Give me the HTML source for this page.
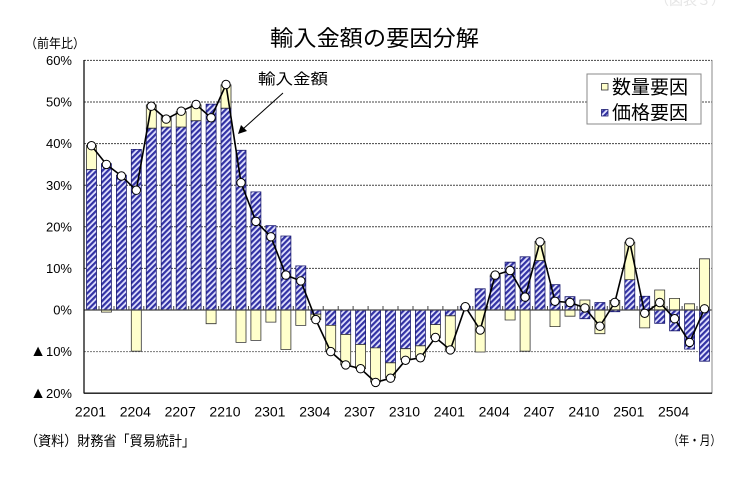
<!DOCTYPE html>
<html><head><meta charset="utf-8">
<style>
html,body{margin:0;padding:0;background:#fff;}
svg{display:block;}
text{font-family:"Liberation Sans","Noto Sans CJK JP",sans-serif;fill:#000;}
</style></head>
<body>
<svg width="744" height="492" viewBox="0 0 744 492" xmlns="http://www.w3.org/2000/svg">
<defs>
<pattern id="h" patternUnits="userSpaceOnUse" width="4" height="4" patternTransform="rotate(45)">
<rect x="0" y="0" width="4" height="4" fill="#e2e2ff"/>
<rect x="0" y="0" width="2.2" height="4" fill="#3232a4"/>
</pattern>
<marker id="m" markerWidth="10" markerHeight="10" refX="5" refY="5" markerUnits="userSpaceOnUse">
<circle cx="5" cy="5" r="4.2" fill="#fff" stroke="#000" stroke-width="1"/>
</marker>
</defs>
<rect width="744" height="492" fill="#fff"/>
<text x="655" y="5" font-size="14" style="fill:#e6e6e6">（図表３）</text>

<text x="270" y="46" font-size="22" textLength="209" lengthAdjust="spacingAndGlyphs">輸入金額の要因分解</text>
<text x="25" y="48" font-size="13" textLength="60" lengthAdjust="spacingAndGlyphs">（前年比）</text>

<path stroke="#444" stroke-width="1" stroke-dasharray="2,1" fill="none" d="M84 60.4H712M84 102H712M84 143.6H712M84 185.2H712M84 226.8H712M84 268.4H712"/>
<path stroke="#777" stroke-width="1" stroke-dasharray="2,1" fill="none" d="M84 351.6H712"/>

<path fill="url(#h)" stroke="#1c1c70" stroke-width="0.8" d="M86.5 169.4h10v140.6h-10zM101.4 163.6h10v146.4h-10zM116.4 175.2h10v134.8h-10zM131.3 149.4h10v160.6h-10zM146.3 128.2h10v181.8h-10zM161.2 127h10v183h-10zM176.2 127h10v183h-10zM191.1 120.7h10v189.3h-10zM206.1 104.1h10v205.9h-10zM221 108.2h10v201.8h-10zM236 150.3h10v159.7h-10zM250.9 191.9h10v118.1h-10zM265.9 225.6h10v84.4h-10zM280.9 236h10v74h-10zM295.8 265.9h10v44.1h-10zM310.8 310h10v4.2h-10zM325.7 310h10v15.4h-10zM340.7 310h10v24.5h-10zM355.6 310h10v34.5h-10zM370.6 310h10v37.9h-10zM385.5 310h10v52.8h-10zM400.5 310h10v38.7h-10zM415.4 310h10v35.8h-10zM430.4 310h10v14.6h-10zM445.3 310h10v5.8h-10zM460.3 306.3h10v3.7h-10zM475.2 288.8h10v21.2h-10zM490.2 276.7h10v33.3h-10zM505.1 262.2h10v47.8h-10zM520.1 256.8h10v53.2h-10zM535 260.5h10v49.5h-10zM550 284.6h10v25.4h-10zM565 296.7h10v13.3h-10zM579.9 310h10v8.7h-10zM594.9 302.5h10v7.5h-10zM609.8 310h10v1.7h-10zM624.8 279.6h10v30.4h-10zM639.7 296.3h10v13.7h-10zM654.7 310h10v13.3h-10zM669.6 310h10v20.8h-10zM684.6 310h10v39.1h-10zM699.5 310h10v51.2h-10z"/>

<path fill="#ffffcc" stroke="#333" stroke-width="0.8" d="M86.5 145.3h10v24.1h-10zM101.4 310h10v2.1h-10zM131.3 310h10v41.2h-10zM146.3 104.9h10v23.3h-10zM161.2 116.6h10v10.4h-10zM176.2 111.6h10v15.4h-10zM191.1 104.9h10v15.8h-10zM206.1 310h10v13.7h-10zM221 84.9h10v23.3h-10zM236 310h10v32.4h-10zM250.9 310h10v30.4h-10zM265.9 310h10v12.1h-10zM280.9 310h10v39.5h-10zM295.8 310h10v15.4h-10zM310.8 314.2h10v5.4h-10zM325.7 325.4h10v26.2h-10zM340.7 334.5h10v30.4h-10zM355.6 344.5h10v24.1h-10zM370.6 347.9h10v34.1h-10zM385.5 362.8h10v15h-10zM400.5 348.7h10v10.8h-10zM415.4 345.8h10v11.2h-10zM430.4 324.6h10v13.3h-10zM445.3 315.8h10v34.5h-10zM475.2 310h10v42h-10zM490.2 275h10v1.7h-10zM505.1 310h10v10h-10zM520.1 310h10v41.2h-10zM535 241.4h10v19.1h-10zM550 310h10v16.6h-10zM565 310h10v6.2h-10zM579.9 300h10v10h-10zM594.9 310h10v23.7h-10zM609.8 300.4h10v9.6h-10zM624.8 242.2h10v37.4h-10zM639.7 310h10v17.9h-10zM654.7 290h10v20h-10zM669.6 298.4h10v11.6h-10zM684.6 303.8h10v6.2h-10zM699.5 258.8h10v51.2h-10z"/>

<line x1="84" y1="310" x2="712" y2="310" stroke="#444" stroke-width="1.2"/>
<path stroke="#444" stroke-width="1" fill="none" d="M99 306v4M114 306v4M128.9 306v4M143.8 306v4M158.8 306v4M173.7 306v4M188.7 306v4M203.6 306v4M218.6 306v4M233.5 306v4M248.5 306v4M263.4 306v4M278.4 306v4M293.3 306v4M308.3 306v4M323.2 306v4M338.2 306v4M353.1 306v4M368.1 306v4M383 306v4M398 306v4M413 306v4M427.9 306v4M442.9 306v4M457.8 306v4M472.8 306v4M487.7 306v4M502.7 306v4M517.6 306v4M532.6 306v4M547.5 306v4M562.5 306v4M577.4 306v4M592.4 306v4M607.3 306v4M622.3 306v4M637.2 306v4M652.2 306v4M667.1 306v4M682.1 306v4M697 306v4"/>

<polyline fill="none" stroke="#000" stroke-width="1.6" stroke-linejoin="round" marker-start="url(#m)" marker-mid="url(#m)" marker-end="url(#m)" points="91.5,145.7 106.4,164.4 121.4,176 136.3,190.2 151.3,106.2 166.2,119.1 181.2,111.2 196.1,104.5 211.1,117.8 226,84.5 241,182.7 255.9,221.4 270.9,236.8 285.9,275.1 300.8,280.9 315.8,319.6 330.7,351.6 345.7,364.9 360.6,368.7 375.6,382.4 390.5,378.2 405.5,360.3 420.4,357.8 435.4,337.5 450.3,349.9 465.3,306.7 480.2,330 495.2,275.1 510.1,270.5 525.1,297.1 540,241.8 555,301.3 570,302.5 584.9,307.9 599.9,326.2 614.8,302.5 629.8,242.2 644.7,313.3 659.7,302.5 674.6,318.7 689.6,342.4 704.5,308.8"/>

<line x1="712" y1="60" x2="712" y2="393.5" stroke="#888" stroke-width="1"/>
<line x1="84" y1="60" x2="84" y2="393.5" stroke="#111" stroke-width="1.3"/>
<line x1="84" y1="393.2" x2="712" y2="393.2" stroke="#111" stroke-width="1.3"/>

<text x="258" y="84" font-size="15" textLength="70" lengthAdjust="spacingAndGlyphs">輸入金額</text>
<line x1="283" y1="93" x2="243" y2="129" stroke="#000" stroke-width="1"/>
<polygon points="238,134 241,125 247,131" fill="#000"/>

<rect x="587" y="74" width="114" height="50" fill="#fff" stroke="#888" stroke-width="1"/>
<rect x="601.5" y="83.5" width="6.5" height="6.5" fill="#ffffcc" stroke="#333" stroke-width="0.8"/>
<rect x="601.5" y="109.5" width="6.5" height="6.5" fill="url(#h)" stroke="#1c1c70" stroke-width="0.8"/>
<text x="612" y="93.5" font-size="19" textLength="76" lengthAdjust="spacingAndGlyphs">数量要因</text>
<text x="612" y="119" font-size="19" textLength="76" lengthAdjust="spacingAndGlyphs">価格要因</text>

<g font-size="13" text-anchor="end">
<text x="72" y="65">60%</text>
<text x="72" y="106.6">50%</text>
<text x="72" y="148.2">40%</text>
<text x="72" y="189.8">30%</text>
<text x="72" y="231.4">20%</text>
<text x="72" y="273">10%</text>
<text x="72" y="314.6">0%</text>
<text x="72" y="356.2"><tspan font-size="16">▲</tspan>10%</text>
<text x="72" y="397.8"><tspan font-size="16">▲</tspan>20%</text>
</g>

<g font-size="14" text-anchor="middle">
<text x="90.5" y="416.5">2201</text>
<text x="135.3" y="416.5">2204</text>
<text x="180.2" y="416.5">2207</text>
<text x="225" y="416.5">2210</text>
<text x="269.9" y="416.5">2301</text>
<text x="314.8" y="416.5">2304</text>
<text x="359.6" y="416.5">2307</text>
<text x="404.5" y="416.5">2310</text>
<text x="449.3" y="416.5">2401</text>
<text x="494.2" y="416.5">2404</text>
<text x="539" y="416.5">2407</text>
<text x="583.9" y="416.5">2410</text>
<text x="628.8" y="416.5">2501</text>
<text x="673.6" y="416.5">2504</text>
</g>

<text x="25" y="446" font-size="14" textLength="170" lengthAdjust="spacingAndGlyphs">（資料）財務省「貿易統計」</text>
<text x="668" y="445" font-size="13" textLength="53" lengthAdjust="spacingAndGlyphs">（年・月）</text>
</svg>
</body></html>
